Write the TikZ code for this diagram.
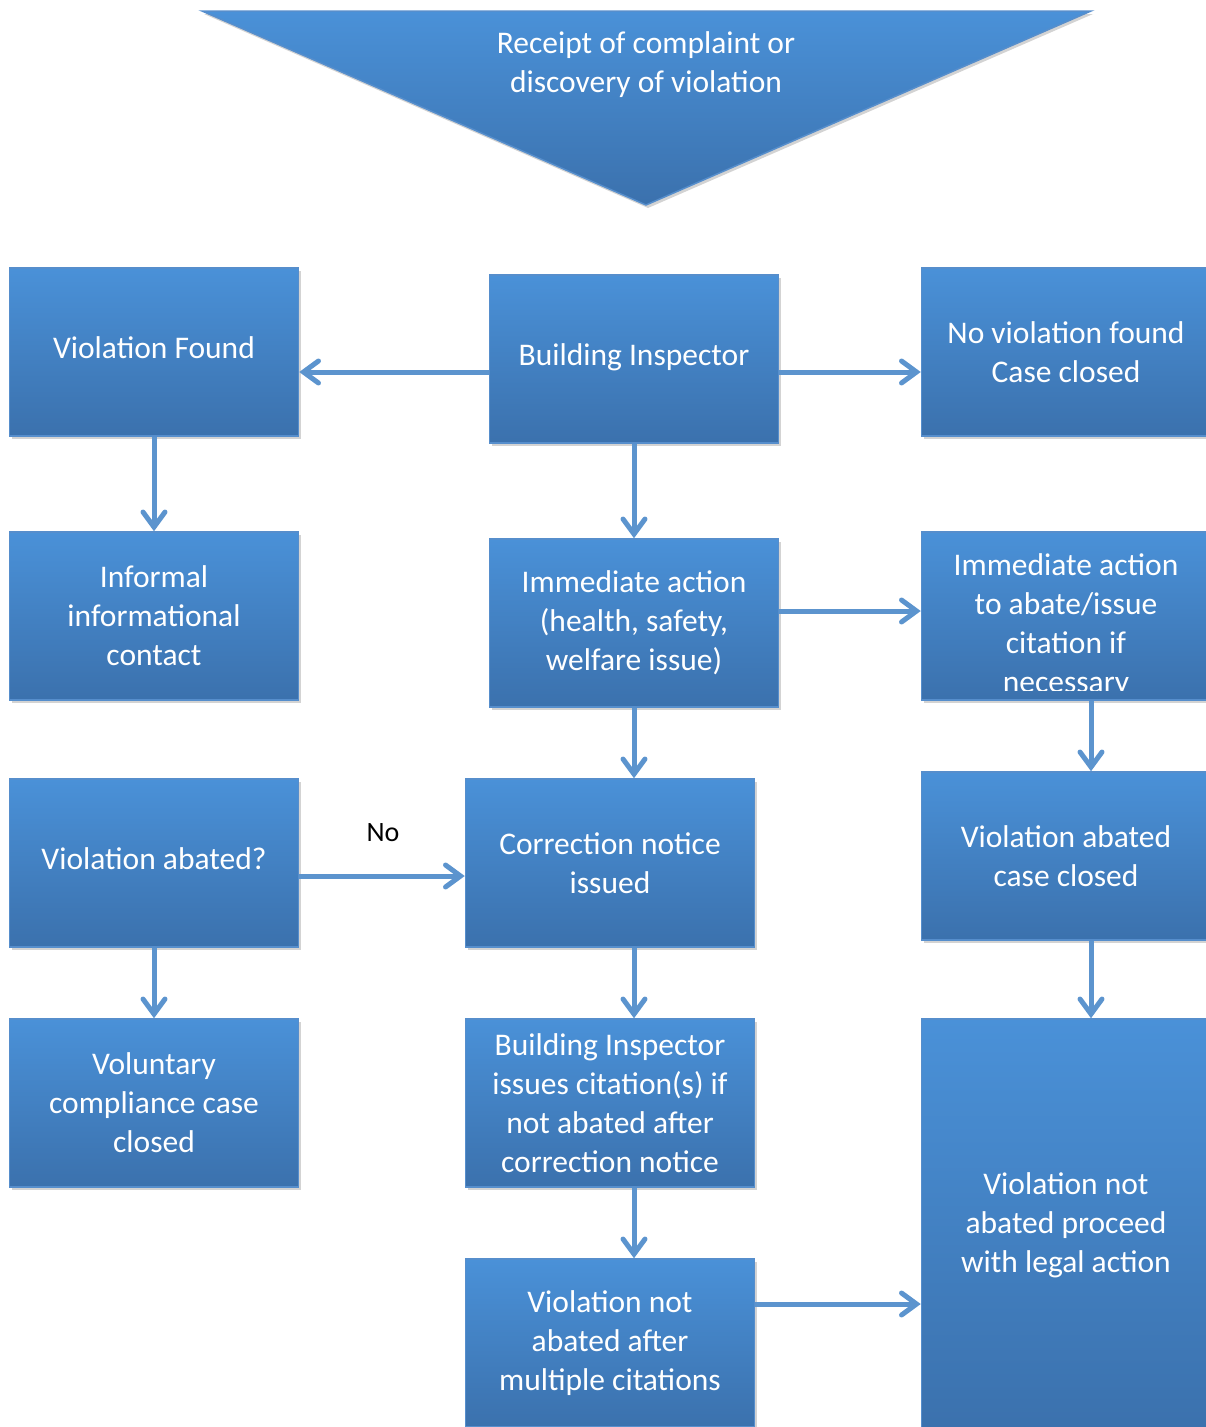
\documentclass[tikz,border=0pt]{standalone}
\usepackage{fontspec}
\setmainfont{Carlito}
\usetikzlibrary{arrows.meta,shadows}

\definecolor{boxtop}{RGB}{74,145,216}
\definecolor{boxbot}{RGB}{59,113,173}
\definecolor{boxedge}{RGB}{86,142,204}
\definecolor{flowblue}{RGB}{92,148,206}

\tikzset{
  stepbox/.style={rectangle,draw=boxedge,line width=1.5pt,
    top color=boxtop,bottom color=boxbot,
    minimum width=289pt,minimum height=168pt,inner sep=0pt,
    drop shadow={opacity=.35,shadow xshift=2pt,shadow yshift=-3pt}},
  boxtext/.style={text=white,align=center,font=\fontsize{31.5}{39}\selectfont},
  flow/.style={draw=flowblue,line width=5pt,
    -{Straight Barb[length=15pt,width=22pt,line cap=round]}}
}

\begin{document}
\begin{tikzpicture}
  [x=1pt,y=-1pt]
  \useasboundingbox (0,0) rectangle (1206,1427);

  % start
  \path[top color=boxtop,bottom color=boxbot,draw=boxedge,line width=1.5pt,
    drop shadow={opacity=.35,shadow xshift=2pt,shadow yshift=-3pt}]
    (202,11) -- (1091,11) -- (646,205) -- cycle;
  \node[boxtext] (receipt) at (646,65) {Receipt of complaint or\\discovery of violation};

  % boxes
  \node[stepbox,boxtext] (vf)  at (154,352)  {\raisebox{8pt}{Violation Found}};
  \node[stepbox,boxtext] (bi)  at (634,359)  {\raisebox{8pt}{Building Inspector}};
  \node[stepbox,boxtext] (nv)  at (1066,352) {No violation found\\Case closed};
  \node[stepbox,boxtext] (inf) at (154,616)  {Informal\\informational\\contact};
  \node[stepbox,boxtext] (imm) at (634,623)  {Immediate action\\(health, safety,\\welfare issue)};
  \node[stepbox] (ia) at (1066,616) {};
  \begin{scope}
    \clip (ia.north west) rectangle ([yshift=10pt]ia.south east);
    \node[boxtext] (iatext) at (1066,625.5) {Immediate action\\to abate/issue\\citation if\\necessary};
  \end{scope}
  \node[stepbox,boxtext] (va)  at (154,863)  {\raisebox{8pt}{Violation abated?}};
  \node[stepbox,boxtext] (cn)  at (610,863)  {Correction notice\\issued};
  \node[stepbox,boxtext] (vc)  at (1066,856) {Violation abated\\case closed};
  \node[stepbox,boxtext] (vol) at (154,1103) {Voluntary\\compliance case\\closed};
  \node[stepbox,boxtext] (bic) at (610,1103) {Building Inspector\\issues citation(s) if\\not abated after\\correction notice};
  \node[stepbox,boxtext] (vna) at (610,1343) {Violation not\\abated after\\multiple citations};
  \node[stepbox,boxtext,minimum height=412pt] (vl) at (1066,1225)
    {Violation not\\abated proceed\\with legal action};

  % connectors
  \foreach \from/\to in {vf/inf,bi/imm,va/vol}
    \draw[flow] (\from) -- (\to);

  \draw[flow] ([yshift=-13pt]bi.west) -- ([yshift=-13pt]bi.west -| vf.east);
  \draw[flow] ([yshift=-13pt]bi.east) -- ([yshift=-13pt]bi.east -| nv.west);
  \draw[flow] ([yshift=12pt]imm.east) -- ([yshift=12pt]imm.east -| ia.west);
  \draw[flow] (imm.south) -- (imm.south |- cn.north);
  \draw[flow] (imm.south |- cn.south) -- (imm.south |- bic.north);
  \draw[flow] (imm.south |- bic.south) -- (imm.south |- vna.north);
  \draw[flow] ([xshift=25pt]ia.south) -- ([xshift=25pt]ia.south |- vc.north);
  \draw[flow] ([xshift=25pt]vc.south) -- ([xshift=25pt]vc.south |- vl.north);
  \draw[flow] ([yshift=-13pt]va.east) -- ([yshift=-13pt]va.east -| cn.west);
  \draw[flow] ([yshift=39pt]vna.east) -- ([yshift=39pt]vna.east -| vl.west);

  \node[font=\fontsize{28}{34}\selectfont] (no) at (383,833) {No};
\end{tikzpicture}
\end{document}
